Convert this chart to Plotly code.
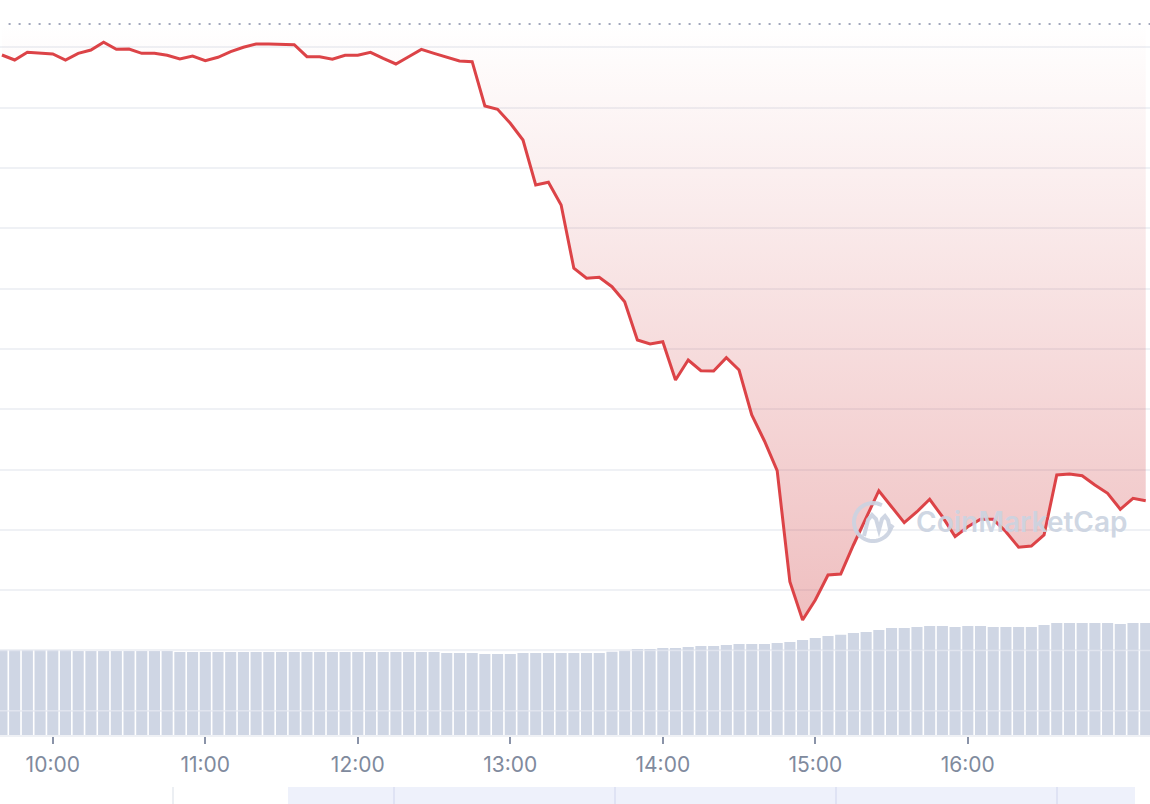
import math
import pandas as pd
import plotly.graph_objects as go

# ---------------- data ----------------
times = pd.date_range("2024-05-01 09:40", "2024-05-01 17:10", freq="5min")

price = [
    10.874, 10.791, 10.919, 10.902,                      # 09:40-09:55
    10.891, 10.791, 10.902, 10.957, 11.085, 10.968,      # 10:00-10:25
    10.973, 10.902, 10.902, 10.869, 10.808, 10.857,      # 10:30-10:55
    10.779, 10.836, 10.929, 11.002, 11.056, 11.056,      # 11:00-11:25
    11.056, 11.045, 10.846, 10.846, 10.803, 10.869,      # 11:30-11:55
    10.869, 10.919, 10.819, 10.725, 10.846, 10.968,      # 12:00-12:25
    10.902, 10.836, 10.774, 10.763, 10.028, 9.973,       # 12:30-12:55
    9.741, 9.464, 8.718, 8.763, 8.386, 7.337,            # 13:00-13:25
    7.171, 7.187, 7.032, 6.783, 6.148, 6.081,            # 13:30-13:55
    6.119, 5.484, 5.816, 5.638, 5.633, 5.854,            # 14:00-14:25
    5.650, 4.904, 4.473, 3.980, 2.139, 1.504,            # 14:30-14:55
    1.836, 2.250, 2.267, 2.748, 3.212, 3.648,            # 15:00-15:25
    3.383, 3.118, 3.300, 3.506, 3.217, 2.886,            # 15:30-15:55
    3.051, 3.174, 3.174, 2.968, 2.710, 2.731,            # 16:00-16:25
    2.914, 3.909, 3.925, 3.897, 3.743, 3.605,            # 16:30-16:55
    3.340, 3.522, 3.483,                                 # 17:00-17:10
]

volume = (
    [8.5] * 6 + [8.4] * 8 + [8.3] * 21 + [8.2] * 3 + [8.1] * 3 + [8.2] * 7 +
    [8.33, 8.43, 8.6, 8.6,
     8.7, 8.7, 8.8, 8.9, 8.9, 9.0, 9.1, 9.1, 9.1, 9.2, 9.3, 9.5,
     9.7, 9.9, 10.03, 10.2, 10.3, 10.5, 10.7, 10.7, 10.8, 10.9, 10.9, 10.8,
     10.9, 10.9, 10.8, 10.8, 10.8, 10.8, 11.0, 11.2, 11.2, 11.2, 11.2, 11.2,
     11.1, 11.2, 11.2]
)

open_price = 11.388

tick_times = pd.date_range("2024-05-01 10:00", "2024-05-01 16:00", freq="1h")
tick_labels = ["10:00", "11:00", "12:00", "13:00", "14:00", "15:00", "16:00"]

# ---------------- styling ----------------
RED = "#dc4347"
GRID = "#eff1f5"
LABEL = "#808a9d"
VOL = "#cfd6e4"
WM = "rgba(203,211,225,0.92)"

W, H = 1150, 804
PLOT_H = 735


def px(x, y):
    """pixel -> paper coords (plot area spans full width, 0..PLOT_H)"""
    return x / W, (PLOT_H - y) / PLOT_H


fig = go.Figure()

fig.add_trace(go.Bar(
    x=times, y=volume, yaxis="y2",
    marker=dict(color=VOL, line=dict(width=0)),
    width=262000, hoverinfo="skip", showlegend=False,
))

fig.add_trace(go.Scatter(
    x=times, y=[open_price] * len(times), mode="lines",
    line=dict(width=0, color="rgba(0,0,0,0)"), hoverinfo="skip", showlegend=False,
))

fig.add_trace(go.Scatter(
    x=times, y=price, mode="lines",
    line=dict(color=RED, width=3),
    fill="tonexty",
    fillgradient=dict(
        type="vertical",
        colorscale=[[0, "rgba(205,55,58,0.32)"], [1, "rgba(205,55,58,0)"]],
        start=min(price), stop=open_price,
    ),
    showlegend=False,
))

shapes = []
# dotted open-price line
shapes.append(dict(type="line", xref="paper", yref="y", x0=8.6 / W, x1=1,
                   y0=open_price, y1=open_price,
                   line=dict(color="#a1a7bb", width=2, dash="2px,8px")))
# gridlines showing across the volume bars
for g in (0, 1):
    shapes.append(dict(type="line", xref="paper", yref="y", x0=0, x1=1, y0=g, y1=g,
                       layer="above", line=dict(color="rgba(239,241,245,0.55)", width=1.5)))

# navigator strip at bottom
y_top = px(0, 787)[1]
y_bot = px(0, 806)[1]
shapes.append(dict(type="rect", xref="paper", yref="paper", x0=288 / W, x1=1135 / W,
                   y0=y_bot, y1=y_top, fillcolor="#eef1fb", line=dict(width=0), layer="below"))
for sx in (394, 615, 836, 1057):
    shapes.append(dict(type="line", xref="paper", yref="paper", x0=sx / W, x1=sx / W,
                       y0=y_bot, y1=y_top, line=dict(color="#dfe3f4", width=2)))
shapes.append(dict(type="line", xref="paper", yref="paper", x0=173 / W, x1=173 / W,
                   y0=y_bot, y1=y_top, line=dict(color="#eceff3", width=2)))

# watermark logo (approximation of the CMC mark)
cx, cy, r = 873, 522, 19
pts = []
for i in range(0, 41):
    a = math.radians(62 + i * (282 / 40))
    pts.append(px(cx + r * math.cos(a), cy - r * math.sin(a)))
path = "M " + " L ".join(f"{x:.5f},{y:.5f}" for x, y in pts)
shapes.append(dict(type="path", xref="paper", yref="paper", path=path,
                   line=dict(color=WM, width=4), layer="above"))
m_pts = [(864, 536), (868, 520), (872, 515), (876, 519), (879, 530),
         (882, 519), (885, 516), (888, 520), (890, 529), (893, 525)]
m_pts = [px(x, y) for x, y in m_pts]
path2 = "M " + " L ".join(f"{x:.5f},{y:.5f}" for x, y in m_pts)
shapes.append(dict(type="path", xref="paper", yref="paper", path=path2,
                   line=dict(color=WM, width=4), layer="above"))

wx, wy = px(914, 522)
fig.add_annotation(x=wx, y=wy, xref="paper", yref="paper", text="CoinMarketCap",
                   showarrow=False, xanchor="left", yanchor="middle",
                   font=dict(family="Inter", size=28, weight=600, color=WM))

fig.update_layout(
    width=W, height=H,
    margin=dict(l=0, r=0, t=0, b=H - PLOT_H),
    paper_bgcolor="white", plot_bgcolor="white",
    showlegend=False,
    shapes=shapes,
    xaxis=dict(
        type="date",
        range=["2024-05-01 09:39:14", "2024-05-01 17:11:41"],
        tickvals=list(tick_times), ticktext=tick_labels,
        ticks="outside", ticklen=7, tickwidth=1.5, tickcolor="#8a93a8",
        ticklabelstandoff=3,
        showgrid=False, zeroline=False,
        showline=True, linecolor=GRID, linewidth=2,
        tickfont=dict(family="Inter", size=21, color=LABEL),
    ),
    yaxis=dict(
        range=[-0.403, 11.786], dtick=1, tick0=0,
        showgrid=True, gridcolor=GRID, gridwidth=1.5,
        showticklabels=False, zeroline=False, ticks="",
    ),
    yaxis2=dict(
        range=[0, 73.5], overlaying="y", showgrid=False, showticklabels=False,
        zeroline=False,
    ),
)

fig.write_html(
    "out.html",
    config={"displayModeBar": False},
    post_script="document.body.style.margin='0';document.body.style.overflow='hidden';",
)
